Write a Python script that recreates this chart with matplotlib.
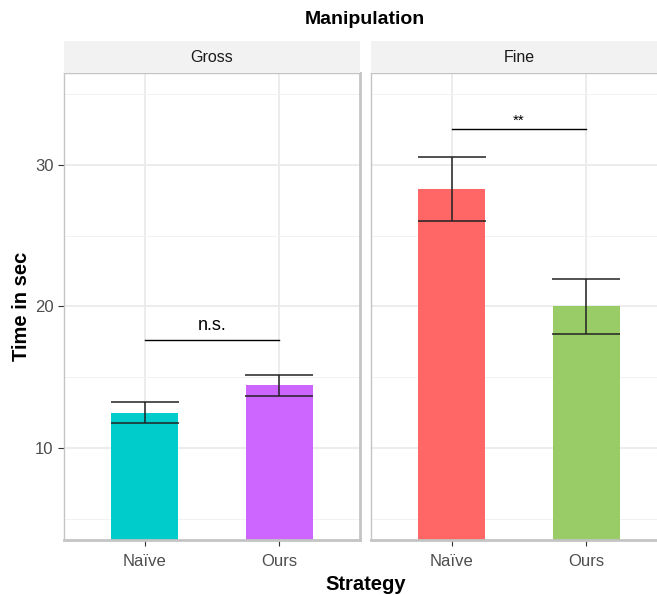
import matplotlib
matplotlib.use("Agg")
import matplotlib.pyplot as plt

plt.rcParams['font.family'] = ['Liberation Sans', 'DejaVu Sans']

panels = ["Gross", "Fine"]
strategies = ["Naïve", "Ours"]
means = {"Gross": [12.5, 14.45], "Fine": [28.3, 20.0]}
errs = {"Gross": [0.74, 0.74], "Fine": [2.24, 1.95]}
colors = {"Gross": ["#00CCCC", "#CC66FF"], "Fine": ["#FF6666", "#99CC66"]}
sig_y = {"Gross": 17.6, "Fine": 32.55}
sig_label = {"Gross": "n.s.", "Fine": "**"}

W, H = 657, 595
fig = plt.figure(figsize=(W / 100, H / 100), dpi=100)

panel_left = [64, 371]
panel_w = 296
top_px, bot_px = 73, 540
strip_top = 41

grid_c = "#ebebeb"
border_c = "#c4c4c4"

for i, p in enumerate(panels):
    l = panel_left[i] / W
    b = 1 - bot_px / H
    h = (bot_px - top_px) / H
    ax = fig.add_axes([l, b, panel_w / W, h])
    x = [1, 2]
    ax.set_xlim(0.4, 2.6)
    ax.set_ylim(3.5, 36.5)
    ax.set_yticks([10, 20, 30])
    ax.set_yticks([5, 15, 25, 35], minor=True)
    ax.set_xticks(x)
    ax.set_xticklabels(strategies)
    ax.grid(True, which='major', color=grid_c, lw=1.3, zorder=0)
    ax.grid(True, which='minor', axis='y', color="#f2f2f2", lw=0.7, zorder=0)
    ax.set_axisbelow(True)
    ax.bar(x, means[p], width=0.5, color=colors[p], zorder=2)
    ax.errorbar(x, means[p], yerr=errs[p], fmt='none', ecolor="#222222",
                elinewidth=1.1, capsize=24.5, capthick=1.1, zorder=3)
    ax.plot([1, 2], [sig_y[p], sig_y[p]], color="black", lw=1.0, zorder=3)
    off = 0.45 if p == "Gross" else 0.05
    ax.text(1.5, sig_y[p] + off, sig_label[p], ha='center', va='bottom',
            fontsize=13 if p == "Gross" else 11, color="black")
    for s in ax.spines.values():
        s.set_color(border_c)
        s.set_linewidth(1.0)
    ax.spines['bottom'].set_linewidth(2.0)
    ax.spines['right'].set_linewidth(2.0)
    ax.tick_params(axis='both', which='major', length=4, color="#333333",
                   labelcolor="#4d4d4d", labelsize=12, width=0.8)
    ax.tick_params(axis='x', which='major', pad=6)
    ax.tick_params(axis='y', which='minor', length=0)
    if i == 1:
        ax.tick_params(axis='y', which='both', left=False, labelleft=False)
    # strip
    sax = fig.add_axes([l, 1 - top_px / H, panel_w / W, (top_px - strip_top) / H])
    sax.set_facecolor("#f2f2f2")
    sax.set_xticks([])
    sax.set_yticks([])
    for s in sax.spines.values():
        s.set_visible(False)
    sax.text(0.5, 0.5, p, ha='center', va='center', fontsize=11.5,
             color="#1a1a1a", transform=sax.transAxes)

fig.text(364.5 / W, 1 - 19 / H, "Manipulation", ha='center', va='center',
         fontsize=14, fontweight='bold')
fig.text(366 / W, 1 - 585 / H, "Strategy", ha='center', va='center',
         fontsize=14.5, fontweight='bold')
fig.text(22 / W, 1 - 306 / H, "Time in sec", ha='center', va='center',
         rotation=90, fontsize=14.5, fontweight='bold')

fig.savefig("out.png", dpi=100)
